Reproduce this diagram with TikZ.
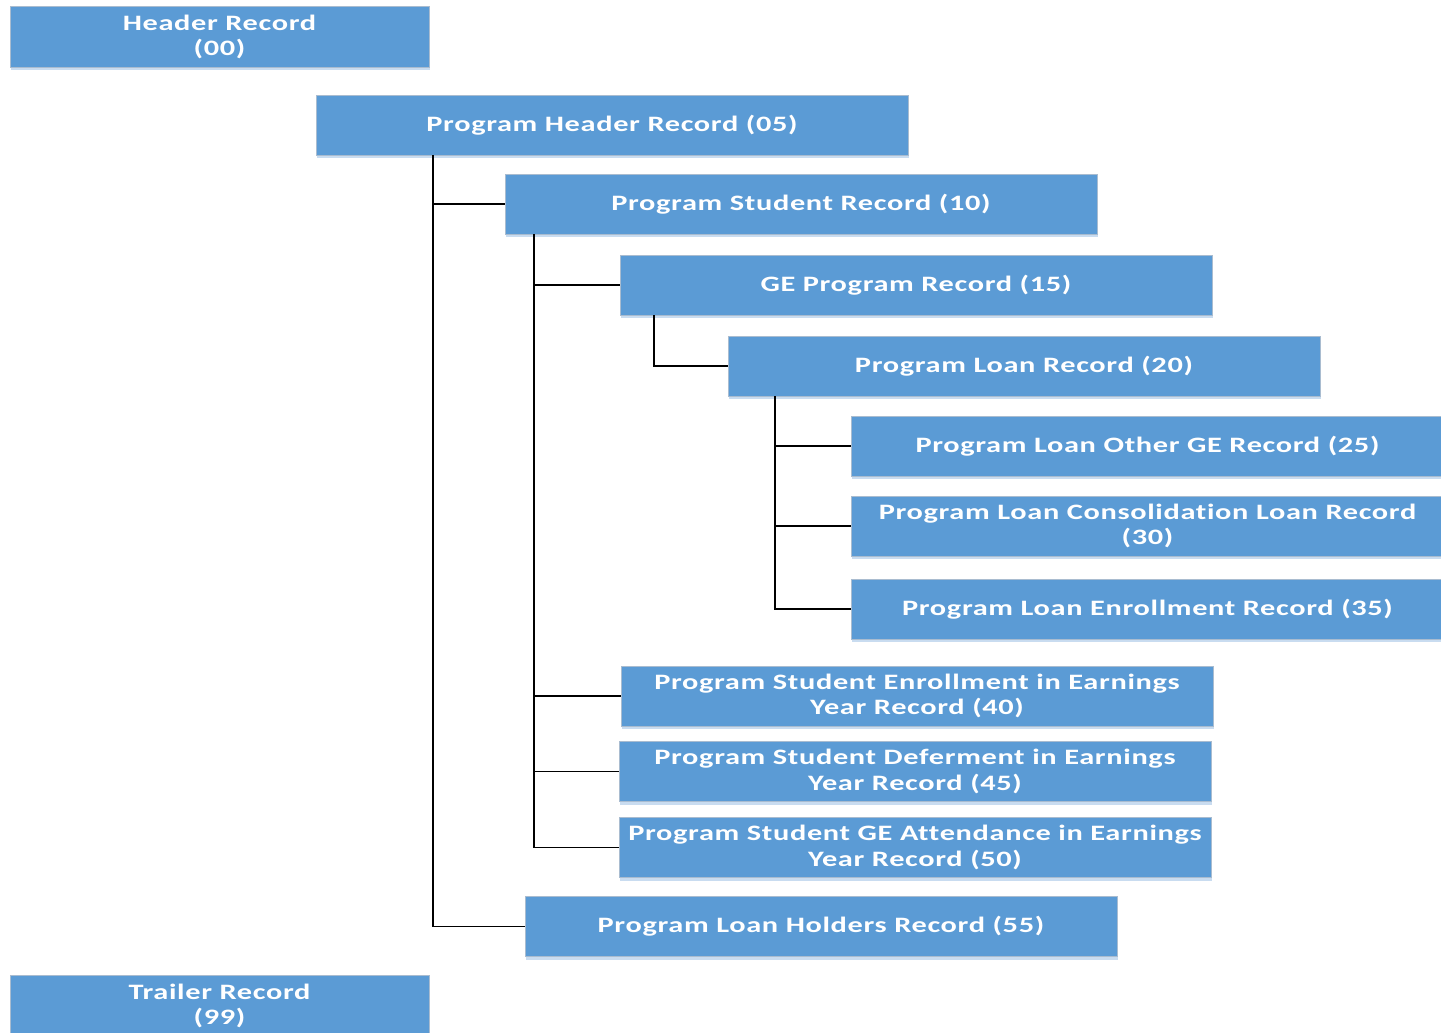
\documentclass[tikz,border=0pt]{standalone}
\usepackage{fontspec}
\setmainfont{Carlito}[FakeStretch=1.38, LetterSpace=3, Ligatures=NoCommon]
\usetikzlibrary{shadows}

\definecolor{recblue}{HTML}{5B9BD5}
\definecolor{recedge}{HTML}{A9BCD0}
\definecolor{recshade}{HTML}{C9DCF0}

\begin{document}
\begin{tikzpicture}[
    x=1pt, y=-1pt,
    rec/.style={rectangle, draw=recedge, line width=0.8pt, fill=recblue, minimum width=592pt, minimum height=60pt, inner sep=0pt, align=center, text=white, font=\fontsize{22}{25.5}\selectfont\bfseries, drop shadow={shadow xshift=1pt, shadow yshift=-3pt, fill=recshade, opacity=1}},
    endrec/.style={rec, minimum width=419pt, minimum height=61pt},
    link/.style={draw=black, line width=1.9pt}
]
    \useasboundingbox (0,0) rectangle (1441,1033);
    % Header and trailer
    \node[endrec] (h00) at (219.5,37) {Header Record\\(00)};
    \node[endrec] (t99) at (219.5,1006) {Trailer Record\\(99)};
    % Program level
    \node[rec] (r05) at (612,125) {Program Header Record (05)};
    \node[rec] (r10) at (801,204) {Program Student Record (10)};
    \node[rec] (r15) at (916,285) {GE Program Record (15)};
    \node[rec] (r20) at (1024,366) {Program Loan Record (20)};
    % Loan records
    \node[rec, minimum width=593pt] (r25) at (1147.5,446) {Program Loan Other GE Record (25)};
    \node[rec, minimum width=593pt] (r30) at (1147.5,526) {Program Loan Consolidation Loan Record\\(30)};
    \node[rec, minimum width=593pt] (r35) at (1147.5,609) {Program Loan Enrollment Record (35)};
    % Earnings year records
    \node[rec] (r40) at (917,696) {Program Student Enrollment in Earnings\\Year Record (40)};
    \node[rec] (r45) at (915,771.5) {Program Student Deferment in Earnings\\Year Record (45)};
    \node[rec] (r50) at (915,847.5) {Program Student GE Attendance in Earnings\\Year Record (50)};
    \node[rec] (r55) at (821,926.5) {Program Loan Holders Record (55)};
    % Connectors
    \draw[link] (r05.south -| 433,0) |- (r10.west);
    \draw[link] (r05.south -| 433,0) |- (r55.west);
    \draw[link] (r10.south -| 534,0) |- (r15.west);
    \draw[link] (r10.south -| 534,0) |- (r40.west);
    \draw[link] (r10.south -| 534,0) |- (r45.west);
    \draw[link] (r10.south -| 534,0) |- (r50.west);
    \draw[link] (r15.south -| 654,0) |- (r20.west);
    \draw[link] (r20.south -| 775,0) |- (r25.west);
    \draw[link] (r20.south -| 775,0) |- (r30.west);
    \draw[link] (r20.south -| 775,0) |- (r35.west);
\end{tikzpicture}
\end{document}
